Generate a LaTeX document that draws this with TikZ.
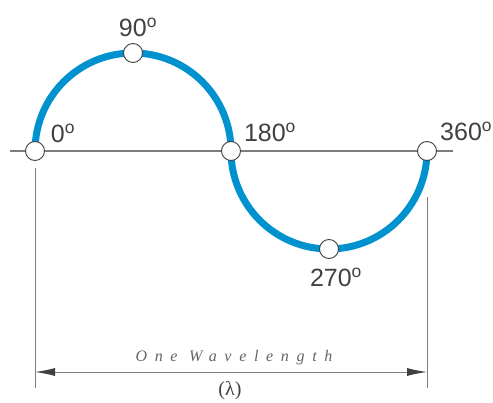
\documentclass[tikz,border=0pt]{standalone}
\usepackage{fontspec}
\setmainfont{Liberation Sans}
\newfontfamily\wavefont[LetterSpace=48]{Liberation Serif}
\newfontfamily\lamfont{Liberation Serif}
\usetikzlibrary{arrows.meta}
\definecolor{waveblue}{RGB}{0,146,207}
\definecolor{axisgray}{RGB}{125,125,125}
\definecolor{labelgray}{RGB}{65,65,65}
\tikzset{
  point/.style={circle, draw=labelgray, fill=white, line width=0.9pt,
                minimum size=19pt, inner sep=0pt},
  deglabel/.style={text=labelgray, font=\fontsize{25}{25}\selectfont, inner sep=0pt},
  dimline/.style={axisgray, line width=1pt},
}
\begin{document}
\begin{tikzpicture}[x=1pt,y=1pt]
  \useasboundingbox (0,0) rectangle (493,402);
  % axis and wave
  \draw[axisgray, line width=1.6pt] (10,251) -- (453,251);
  \draw[waveblue, line width=7pt] (35,251) arc[start angle=180, end angle=0, radius=98]
    arc[start angle=180, end angle=360, radius=98];
  % phase points
  \node[point] (p0)   at (35,251)  {};
  \node[point] (p90)  at (133,349) {};
  \node[point] (p180) at (231,251) {};
  \node[point] (p270) at (329,153) {};
  \node[point] (p360) at (427,251) {};
  \node[deglabel] (l0)   at (63,269)  {0\textsuperscript{o}};
  \node[deglabel] (l90)  at (138,375) {90\textsuperscript{o}};
  \node[deglabel] (l180) at (270,270) {180\textsuperscript{o}};
  \node[deglabel, anchor=west] (l360) at (440,271) {360\textsuperscript{o}};
  \node[deglabel] (l270) at (336,125) {270\textsuperscript{o}};
  % wavelength dimension
  \coordinate (dimL) at (35,30);
  \coordinate (dimR) at (427,30);
  \draw[dimline] (35,234) -- (35,14);
  \draw[dimline] (427,205) -- (427,14);
  \draw[dimline, {Latex[length=20pt,width=8pt,color=labelgray]}-{Latex[length=20pt,width=8pt,color=labelgray]}] (dimL) -- (dimR);
  \node[text=axisgray!80!black, font=\wavefont\itshape\fontsize{16}{16}\selectfont] (wl) at (234,44) {One Wavelength};
  \node[text=labelgray, font=\lamfont\fontsize{20}{20}\selectfont] (lam) at (230,11) {(λ)};
\end{tikzpicture}
\end{document}
